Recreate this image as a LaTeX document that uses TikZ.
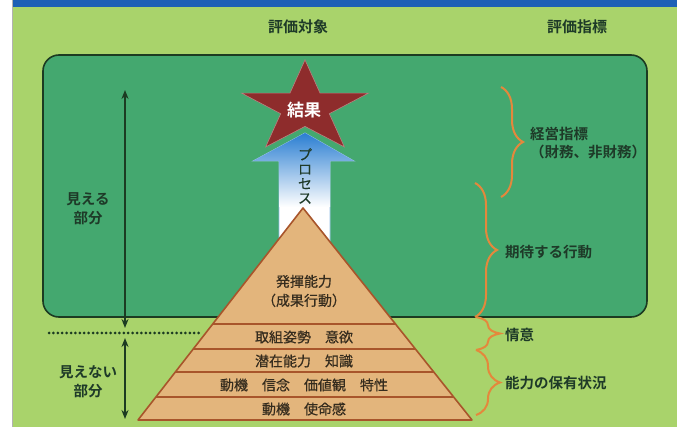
\documentclass[tikz,border=0pt]{standalone}
\usepackage{fontspec}
\setmainfont{Noto Sans CJK JP}[BoldFont={Noto Sans CJK JP Bold}]
\newfontfamily\pyrfont{Noto Sans CJK JP}[FakeBold=0.6]
\usetikzlibrary{decorations.pathreplacing,arrows.meta}
\definecolor{bglight}{HTML}{A9D36B}
\definecolor{boxgreen}{HTML}{44A86F}
\definecolor{boxedge}{HTML}{1C3B22}
\definecolor{bandblue}{HTML}{1C60B6}
\definecolor{pyrfill}{HTML}{E3B57C}
\definecolor{pyredge}{HTML}{A8552B}
\definecolor{starred}{HTML}{8E2C2C}
\definecolor{arrowblue}{HTML}{2A7ED2}
\definecolor{txtgreen}{HTML}{1E3A28}
\definecolor{txtpyr}{HTML}{352C1E}
\definecolor{bracecol}{HTML}{E4883C}
\tikzset{
  lbl/.style={font=\bfseries\fontsize{14.5}{17}\selectfont, text=txtgreen, inner sep=0pt},
  hdr/.style={font=\bfseries\fontsize{15}{17}\selectfont, text=txtgreen, inner sep=0pt},
  pyr/.style={font=\pyrfont\fontsize{14}{17}\selectfont, text=txtpyr, inner sep=0pt},
  brc/.style={draw=bracecol, line width=2pt, decorate, decoration={brace, amplitude=#1}},
  dim/.style={draw=boxedge, line width=1.6pt, {Stealth[length=9pt,width=7pt]}-{Stealth[length=9pt,width=7pt]}},
}
\begin{document}
\begin{tikzpicture}[x=1pt,y=-1pt]
\useasboundingbox (0,0) rectangle (685,427);
% backgrounds
\fill[white] (0,0) rectangle (685,427);
\fill[bglight] (13,0) rectangle (677,427);
\draw[gray!60, line width=0.8pt] (12.5,0) -- (12.5,427);
\fill[bandblue] (13,0) rectangle (677,7);
% headers
\node[hdr] (h1) at (298,27) {評価対象};
\node[hdr] (h2) at (577,27) {評価指標};
% visible box
\draw[fill=boxgreen, draw=boxedge, line width=1.6pt, rounded corners=16pt] (43,55) rectangle (647,317);
% dotted line
\coordinate (d1) at (49,333);
\coordinate (d2) at (200,333);
\draw[boxedge, line width=3pt, line cap=round, dash pattern=on 0pt off 4.4pt] (d1) -- (d2);
% dimension arrows
\coordinate (a1) at (125,90);
\coordinate (a2) at (125,328);
\coordinate (a3) at (125,338);
\coordinate (a4) at (125,419);
\draw[dim] (a1) -- (a2);
\draw[dim] (a3) -- (a4);
\node[lbl, align=center, font=\bfseries\fontsize{14.5}{19}\selectfont] (vis) at (88,209) {見える\\部分};
\node[lbl, align=center, font=\bfseries\fontsize{14.5}{19}\selectfont] (invis) at (88,382) {見えない\\部分};
% process arrow
\path[fill=white, draw=arrowblue!50, line width=0.8pt] (305,133) -- (354,161) -- (330,161) -- (330,245) -- (279,245) -- (279,161) -- (253,161) -- cycle;
\begin{scope}
\clip (305,133) -- (354,161) -- (330,161) -- (330,245) -- (279,245) -- (279,161) -- (253,161) -- cycle;
\shade[top color=arrowblue, bottom color=white] (250,133) rectangle (360,207);
\end{scope}
\node[font=\pyrfont\fontsize{14}{14.5}\selectfont, text=txtgreen, align=center, inner sep=0pt] (proc) at (305,176) {プ\\ロ\\セ\\ス};
% star
\fill[starred, draw=starred!60!white, line width=0.6pt]
  (305,59.9) -- (320,93.1) -- (368.5,93.1) -- (329.3,113.7) -- (344.3,146.9)
  -- (305,126.4) -- (265.7,146.9) -- (280.7,113.7) -- (241.5,93.1) -- (290,93.1) -- cycle;
\node[font=\bfseries\fontsize{17}{19}\selectfont, text=white, inner sep=0pt] (res) at (304,110) {結果};
% pyramid
\coordinate (pA) at (303,208);
\coordinate (pL) at (138,420);
\coordinate (pR) at (472,420);
\fill[pyrfill] (pA) -- (pL) -- (pR) -- cycle;
\begin{scope}
\clip (pA) -- (pL) -- (pR) -- cycle;
\foreach \yy in {324,349,372,397} \draw[pyredge, line width=1.5pt] (130,\yy) -- (480,\yy);
\end{scope}
\draw[pyredge, line width=1.6pt, line join=round] (pA) -- (pL) -- (pR) -- cycle;
\node[pyr, align=center, font=\pyrfont\fontsize{14}{19}\selectfont] (p0) at (304,291) {発揮能力\\（成果行動）};
\node[pyr] (p1) at (304,337) {取組姿勢　意欲};
\node[pyr] (p2) at (304,361) {潜在能力　知識};
\node[pyr] (p3) at (304,385) {動機　信念　価値観　特性};
\node[pyr] (p4) at (304,409) {動機　使命感};
% braces
\coordinate (b1t) at (501,87);  \coordinate (b1b) at (501,197);
\coordinate (b2t) at (475,183); \coordinate (b2b) at (475,317);
\coordinate (b3t) at (476,317); \coordinate (b3b) at (476,350);
\coordinate (b4t) at (476,350); \coordinate (b4b) at (476,415);
\draw[brc=22pt] (b1t) -- (b1b);
\draw[brc=22pt] (b2t) -- (b2b);
\draw[brc=24pt] (b3t) -- (b3b);
\draw[brc=24pt] (b4t) -- (b4b);
\node[lbl, anchor=west, align=left, font=\bfseries\fontsize{14.5}{18}\selectfont] (r1) at (530,143) {経営指標\\（財務、非財務）};
\node[lbl, anchor=west] (r2) at (505,252) {期待する行動};
\node[lbl, anchor=west] (r3) at (505,335) {情意};
\node[lbl, anchor=west] (r4) at (505,383) {能力の保有状況};
\end{tikzpicture}
\end{document}
